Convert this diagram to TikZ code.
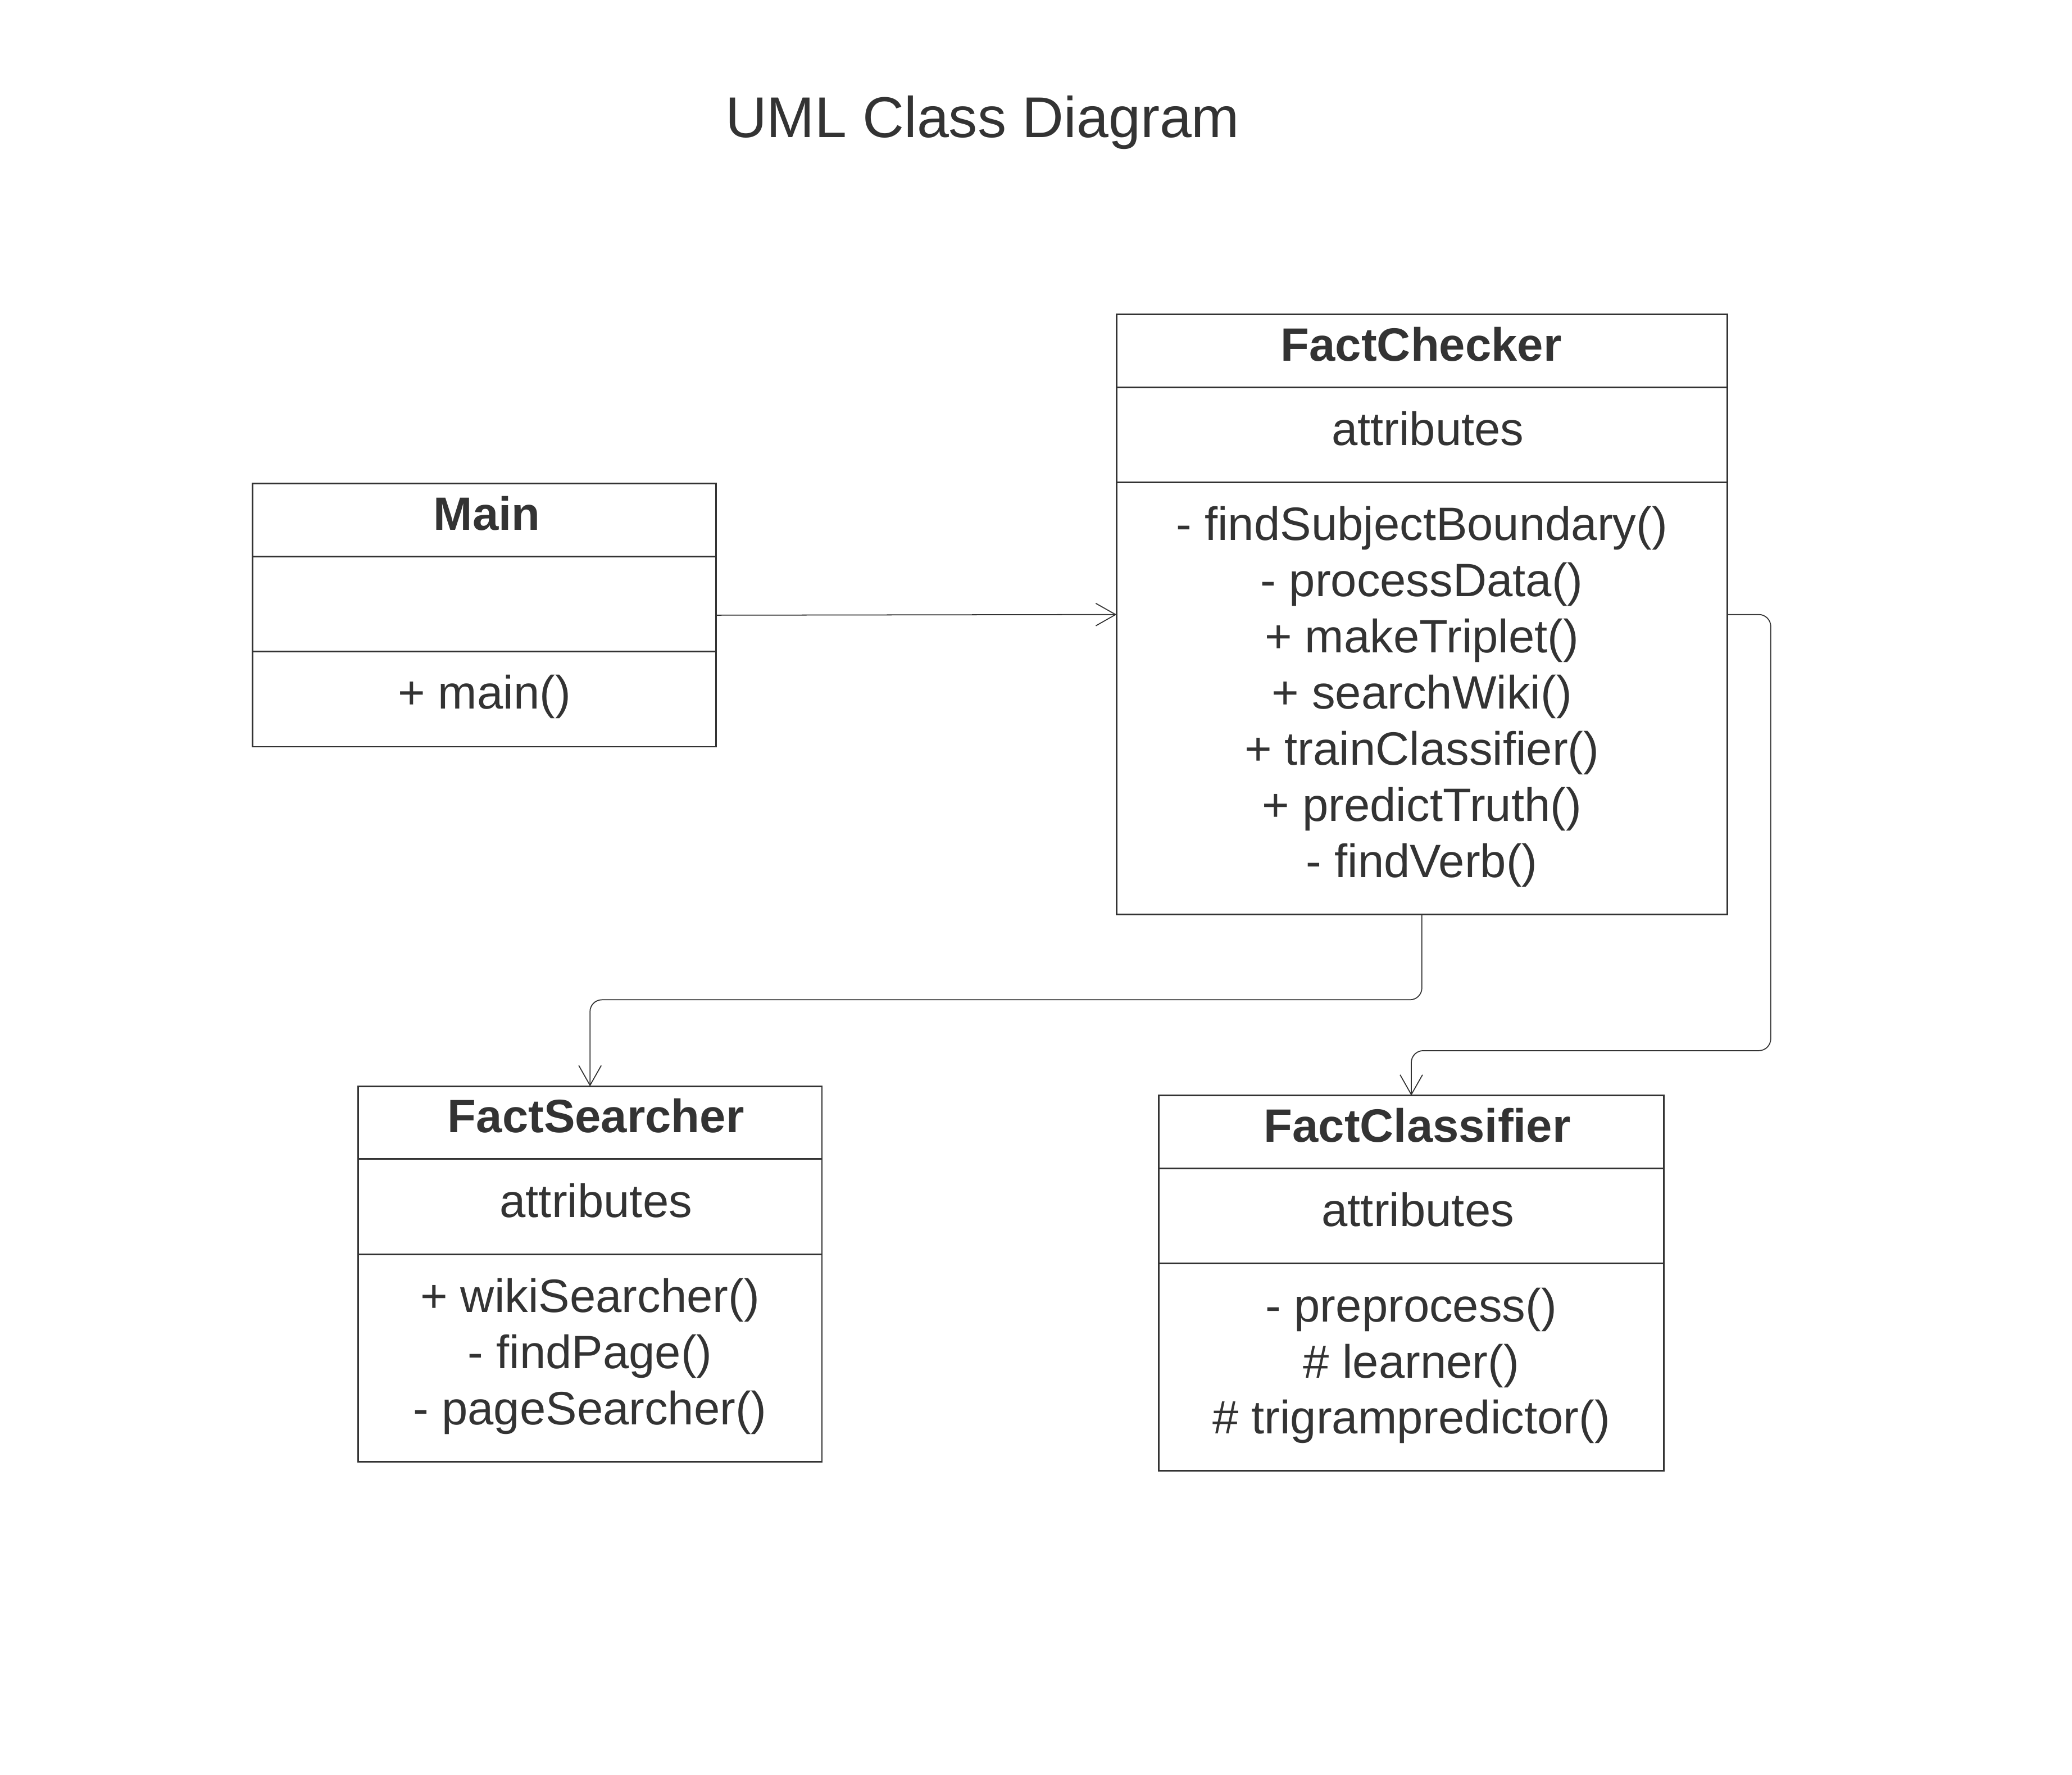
\documentclass[tikz,border=0pt]{standalone}
\usepackage{fontspec}
\setmainfont{Liberation Sans}
\usetikzlibrary{arrows.meta}
\definecolor{ink}{HTML}{333333}

\tikzset{
	classbox/.style={draw=ink, line width=1.2pt, inner sep=0pt, outer sep=0pt, anchor=north west},
	divider/.style={draw=ink, line width=1.2pt},
	classname/.style={font=\fontsize{35.4}{42.5}\selectfont\bfseries, text=ink, anchor=base, inner sep=0pt},
	member/.style={font=\fontsize{35.4}{42.5}\selectfont, text=ink, anchor=base, inner sep=0pt},
	assoc/.style={draw=ink, line width=0.75pt, rounded corners=9pt, -{Straight Barb[length=15pt,width=17pt,line width=0.75pt]}},
}

\begin{document}
\begin{tikzpicture}[x=1pt,y=-1pt]
	\useasboundingbox (0,0) rectangle (1568,1343);
	\node[font=\fontsize{43.5}{52}\selectfont, text=ink, anchor=base, inner sep=0pt] (title) at (743.5,104) {UML Class Diagram};

	% class boxes
	\node[classbox, minimum width=351pt, minimum height=199pt] (main) at (191,366) {};
	\node[classbox, minimum width=462pt, minimum height=454pt] (checker) at (845,238) {};
	\node[classbox, minimum width=351pt, minimum height=284pt] (searcher) at (271,822) {};
	\node[classbox, minimum width=382pt, minimum height=284pt] (classifier) at (877,829) {};
	\foreach \cls in {main, checker, searcher, classifier} {
		\draw[divider] ([yshift=-55pt]\cls.north west) -- ([yshift=-55pt]\cls.north east);
		\draw[divider] ([yshift=-127pt]\cls.north west) -- ([yshift=-127pt]\cls.north east);
	}

	% Main
	\node[classname] (main-name) at (368.5,401) {Main};
	\node[member] (main-op) at (366.5,536.5) {+ main()};

	% FactChecker
	\node[classname] (checker-name) at (1075.5,273) {FactChecker};
	\node[member] (checker-attr) at (1080.5,337) {attributes};
	\foreach \op [count=\i] in {- findSubjectBoundary(), - processData(), + makeTriplet(), + searchWiki(), + trainClassifier(), + predictTruth(), - findVerb()}
		\node[member] (checker-op\i) at (1076,{409+42.5*(\i-1)}) {\op};

	% FactSearcher
	\node[classname] (searcher-name) at (451,857) {FactSearcher};
	\node[member] (searcher-attr) at (451,921) {attributes};
	\foreach \op [count=\i] in {+ wikiSearcher(), - findPage(), - pageSearcher()}
		\node[member] (searcher-op\i) at (446.5,{993+42.5*(\i-1)}) {\op};

	% FactClassifier
	\node[classname] (classifier-name) at (1072.5,864) {FactClassifier};
	\node[member] (classifier-attr) at (1073,928) {attributes};
	\foreach \op [count=\i] in {- preprocess(), \# learner(), \# trigrampredictor()}
		\node[member] (classifier-op\i) at (1068,{1000+42.5*(\i-1)}) {\op};

	% associations
	\coordinate (bendL) at (1076,756.5);
	\coordinate (bendR) at (1340,795);
	\draw[assoc] (main.east) -- (checker.west);
	\draw[assoc] (checker.south) -- (bendL) -| (searcher.north);
	\draw[assoc] (checker.east) -| (bendR) -| (classifier.north);
\end{tikzpicture}
\end{document}
